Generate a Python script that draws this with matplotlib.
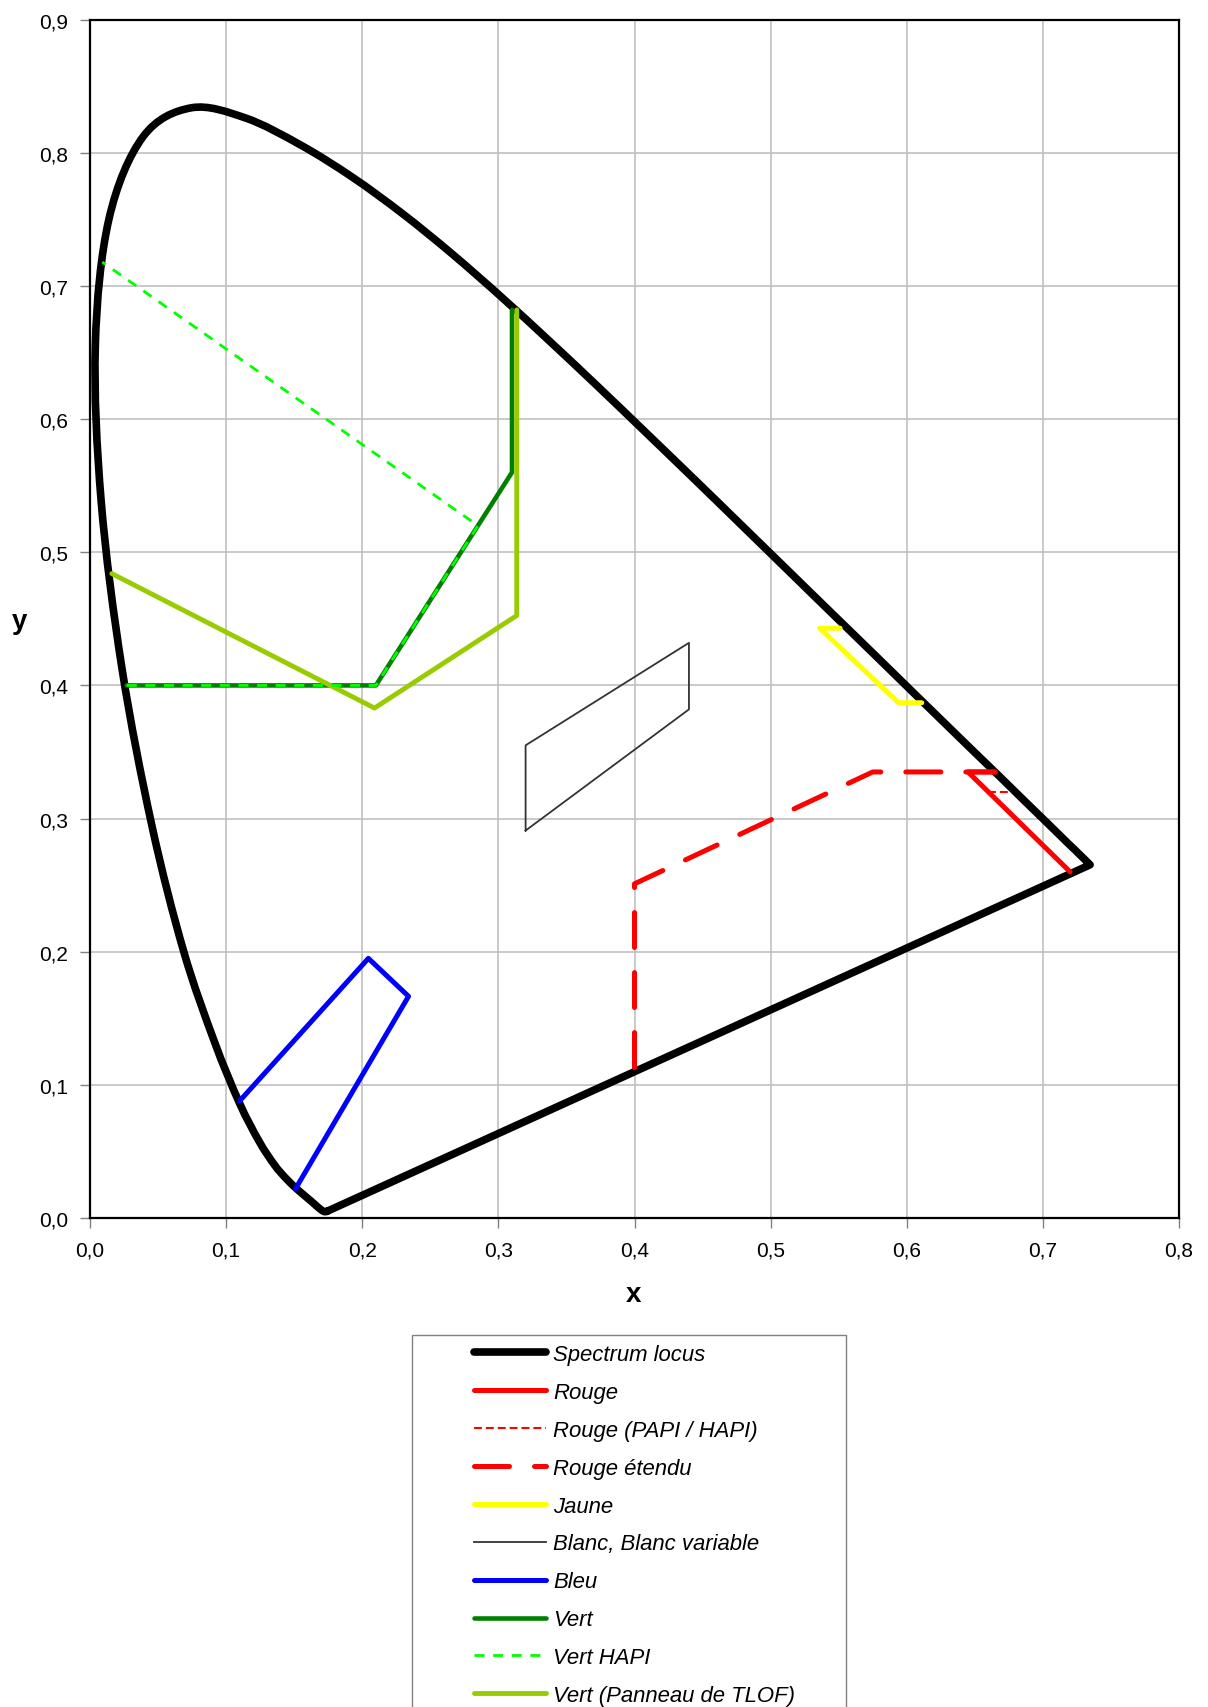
import matplotlib
matplotlib.use("Agg")
import matplotlib.pyplot as plt
import matplotlib.patches as patches
from matplotlib.path import Path
from matplotlib.lines import Line2D
from matplotlib.ticker import MultipleLocator, FuncFormatter

plt.rcParams['font.family'] = ['Liberation Sans', 'DejaVu Sans']

# CIE 1931 spectrum locus, 380..700 nm (5 nm steps to 670, then 680, 690, 700)
locus_x = [0.1741, 0.1740, 0.1738, 0.1736, 0.1733, 0.1730, 0.1726, 0.1721, 0.1714, 0.1703,
           0.1689, 0.1669, 0.1644, 0.1611, 0.1566, 0.1510, 0.1440, 0.1355, 0.1241, 0.1096,
           0.0913, 0.0687, 0.0454, 0.0235, 0.0082, 0.0039, 0.0139, 0.0389, 0.0743, 0.1142,
           0.1547, 0.1929, 0.2296, 0.2658, 0.3016, 0.3373, 0.3731, 0.4087, 0.4441, 0.4788,
           0.5125, 0.5448, 0.5752, 0.6029, 0.6270, 0.6482, 0.6658, 0.6801, 0.6915, 0.7006,
           0.7079, 0.7140, 0.7190, 0.7230, 0.7260, 0.7283, 0.7300, 0.7311, 0.7320, 0.7334,
           0.7344, 0.7347]
locus_y = [0.0050, 0.0050, 0.0049, 0.0049, 0.0048, 0.0048, 0.0048, 0.0048, 0.0051, 0.0058,
           0.0069, 0.0086, 0.0109, 0.0138, 0.0177, 0.0227, 0.0297, 0.0399, 0.0578, 0.0868,
           0.1327, 0.2007, 0.2950, 0.4127, 0.5384, 0.6548, 0.7502, 0.8120, 0.8338, 0.8262,
           0.8059, 0.7816, 0.7543, 0.7243, 0.6923, 0.6589, 0.6245, 0.5896, 0.5547, 0.5202,
           0.4866, 0.4544, 0.4242, 0.3965, 0.3725, 0.3514, 0.3340, 0.3197, 0.3083, 0.2993,
           0.2920, 0.2859, 0.2809, 0.2770, 0.2740, 0.2717, 0.2700, 0.2689, 0.2680, 0.2666,
           0.2656, 0.2653]

rouge_x = [0.665, 0.645, 0.720]
rouge_y = [0.335, 0.335, 0.260]

papi_x = [0.660, 0.677]
papi_y = [0.320, 0.320]

etendu_x = [0.400, 0.400, 0.575, 0.665]
etendu_y = [0.113, 0.251, 0.335, 0.335]

jaune_x = [0.551, 0.536, 0.594, 0.611]
jaune_y = [0.443, 0.443, 0.387, 0.387]

blanc_x = [0.320, 0.440, 0.440, 0.320, 0.320]
blanc_y = [0.291, 0.382, 0.432, 0.355, 0.291]

bleu_x = [0.110, 0.2045, 0.234, 0.151]
bleu_y = [0.088, 0.195, 0.1665, 0.022]

vert_x = [0.027, 0.210, 0.310, 0.310]
vert_y = [0.400, 0.400, 0.560, 0.682]

hapi_x = [0.027, 0.210, 0.285, 0.009]
hapi_y = [0.400, 0.400, 0.520, 0.718]

tlof_x = [0.016, 0.209, 0.3135, 0.3135]
tlof_y = [0.484, 0.383, 0.4525, 0.682]


def smooth_path(xs, ys):
    # smoothed line through the points (like a spreadsheet "smoothed line"),
    # then the straight purple line back to the start
    pts = list(zip(xs, ys))
    n = len(pts)
    verts = [pts[0]]
    codes = [Path.MOVETO]
    for i in range(n - 1):
        p0 = pts[max(i - 1, 0)]
        p1 = pts[i]
        p2 = pts[i + 1]
        p3 = pts[min(i + 2, n - 1)]
        c1 = (p1[0] + (p2[0] - p0[0]) / 6, p1[1] + (p2[1] - p0[1]) / 6)
        c2 = (p2[0] - (p3[0] - p1[0]) / 6, p2[1] - (p3[1] - p1[1]) / 6)
        verts += [c1, c2, p2]
        codes += [Path.CURVE4] * 3
    verts.append(pts[0])
    codes.append(Path.LINETO)
    return Path(verts, codes)


W, H = 1208, 1708
fig = plt.figure(figsize=(W / 100, H / 100), dpi=100)
ax = fig.add_axes([90 / W, 1 - 1219 / H, (1179 - 90) / W, (1219 - 20.7) / H])

locus = patches.PathPatch(smooth_path(locus_x, locus_y), fill=False,
                          edgecolor='black', lw=5.5, joinstyle='round',
                          capstyle='round', zorder=3)
ax.add_patch(locus)

ax.plot(rouge_x, rouge_y, color='#ff0000', lw=3.6, solid_capstyle='round',
        label='Rouge', zorder=4)
ax.plot(papi_x, papi_y, color='#ff0000', lw=1.5, dashes=(3.8, 1.9),
        label='Rouge (PAPI / HAPI)', zorder=4)
ax.plot(etendu_x, etendu_y, color='#ff0000', lw=3.6, dashes=(7, 5),
        dash_capstyle='round', label='Rouge étendu', zorder=4)
ax.plot(jaune_x, jaune_y, color='#ffff00', lw=3.6, solid_capstyle='round',
        label='Jaune', zorder=4)
ax.plot(blanc_x, blanc_y, color='#333333', lw=1.3, label='Blanc, Blanc variable', zorder=4)
ax.plot(bleu_x, bleu_y, color='#0000ff', lw=3.6, solid_capstyle='round',
        label='Bleu', zorder=4)
ax.plot(vert_x, vert_y, color='#008000', lw=3.3, solid_capstyle='round',
        label='Vert', zorder=4)
ax.plot(hapi_x, hapi_y, color='#00ff00', lw=2.0, dashes=(3.6, 3.1),
        label='Vert HAPI', zorder=5)
ax.plot(tlof_x, tlof_y, color='#99cc00', lw=3.5, solid_capstyle='round',
        label='Vert (Panneau de TLOF)', zorder=4)

ax.set_xlim(0, 0.8)
ax.set_ylim(0, 0.9)
ax.xaxis.set_major_locator(MultipleLocator(0.1))
ax.yaxis.set_major_locator(MultipleLocator(0.1))
fmt = FuncFormatter(lambda v, p: f"{v:.1f}".replace('.', ','))
ax.xaxis.set_major_formatter(fmt)
ax.yaxis.set_major_formatter(fmt)
ax.grid(True, color='#c0c0c0', lw=1.2)
ax.set_axisbelow(True)
ax.tick_params(direction='out', length=7, width=1, color='#808080',
               labelsize=15, pad=9)
for s in ax.spines.values():
    s.set_linewidth(1.6)
    s.set_color('black')
    s.set_zorder(6)

fig.text(634 / W, 1 - 1295 / H, 'x', fontsize=20, fontweight='bold',
         ha='center', va='center')
fig.text(20 / W, 1 - 622 / H, 'y', fontsize=20, fontweight='bold',
         ha='center', va='center')

# legend box (runs off the bottom of the figure)
box = patches.Rectangle((412 / W, 1 - 1760 / H), (846 - 412) / W, (1760 - 1336) / H,
                        transform=fig.transFigure, fill=False,
                        edgecolor='#808080', lw=1.0)
fig.add_artist(box)

handles, labels = ax.get_legend_handles_labels()
handles = [Line2D([], [], color='black', lw=5.5, solid_capstyle='round')] + handles
labels = ['Spectrum locus'] + labels
leg = ax.legend(handles, labels, loc='upper left',
                bbox_to_anchor=(474 / W, 1 - 1345 / H),
                bbox_transform=fig.transFigure, frameon=False, borderpad=0,
                borderaxespad=0, handlelength=3.26, handletextpad=0.33,
                labelspacing=0.765, prop={'size': 15.9, 'style': 'italic'})

fig.savefig('out.png', dpi=100)
